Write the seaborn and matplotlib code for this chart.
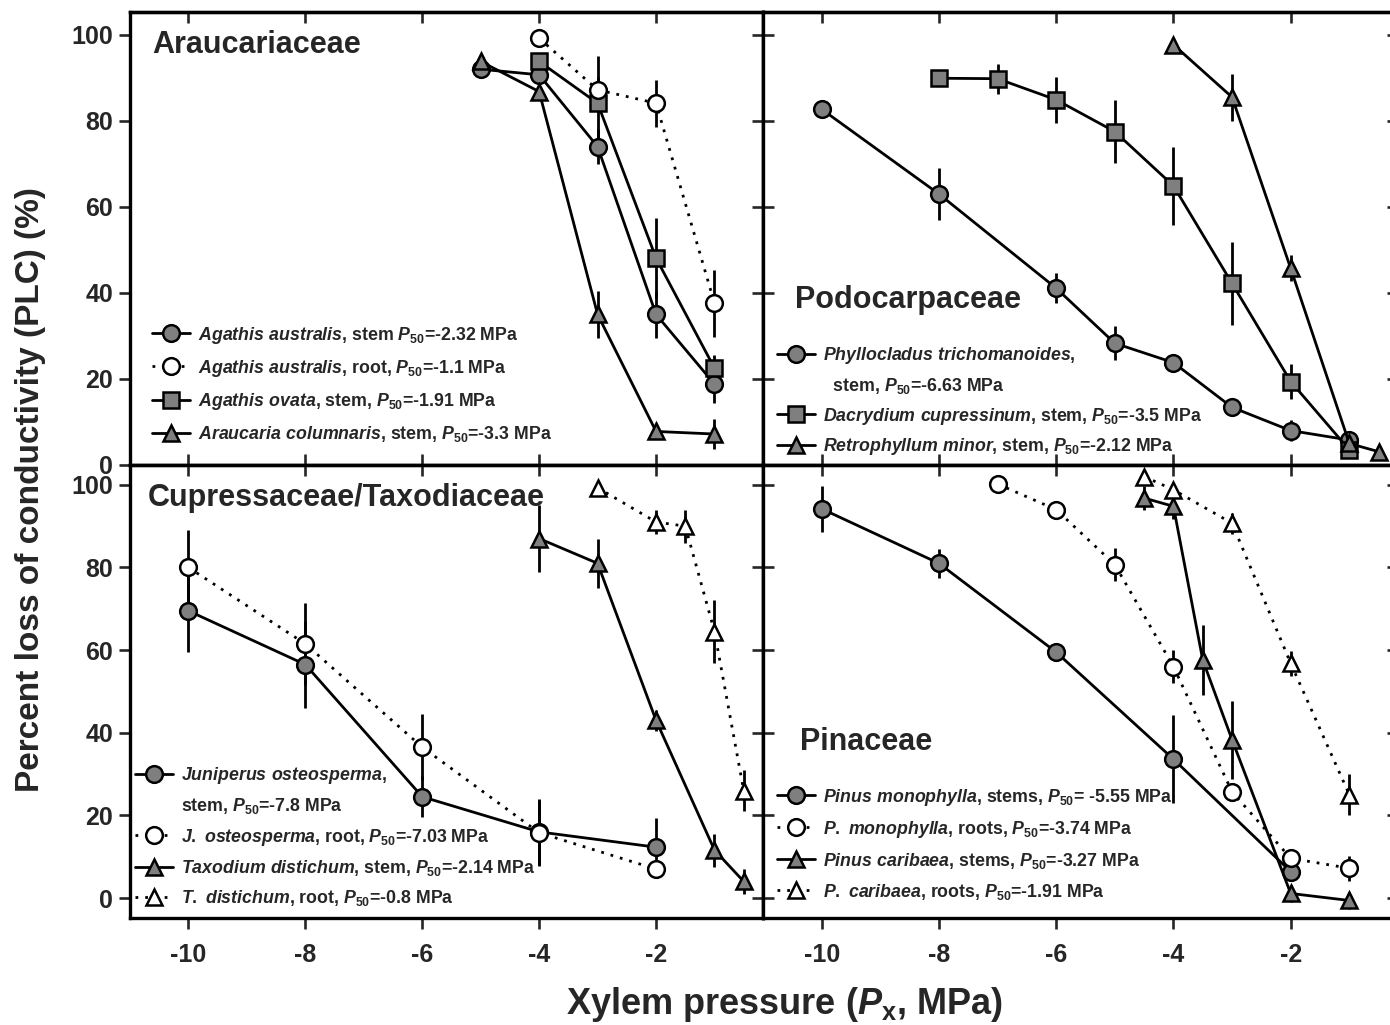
import matplotlib
matplotlib.use("Agg")
import matplotlib.pyplot as plt
from matplotlib.lines import Line2D
from matplotlib import font_manager
import seaborn as sns

sns.set_theme(style="white")
names = {f.name for f in font_manager.fontManager.ttflist}
NARROW = "Liberation Sans Narrow" if "Liberation Sans Narrow" in names else "Liberation Sans"
plt.rcParams.update({
    "font.family": ["Liberation Sans", "DejaVu Sans"],
    "font.weight": "bold",
    "axes.unicode_minus": False,
    "mathtext.fontset": "custom",
    "mathtext.rm": "Liberation Sans:bold",
    "mathtext.it": "Liberation Sans:italic:bold",
    "mathtext.bf": "Liberation Sans:bold",
})

# ---------------- data ----------------
# Araucariaceae
aa_stem_x = [-5, -4, -3, -2, -1]
aa_stem_y = [92, 90.7, 74, 35, 18.8]
aa_stem_e = [0, 1.5, 4, 5.5, 4.3]
aa_root_x = [-4, -3, -2, -1]
aa_root_y = [99.2, 87.2, 84.1, 37.6]
aa_root_e = [0, 3, 5.5, 7.8]
ao_stem_x = [-4, -3, -2, -1]
ao_stem_y = [93.8, 84.1, 48.1, 22.5]
ao_stem_e = [1, 11, 9.3, 3]
ac_stem_x = [-5, -4, -3, -2, -1]
ac_stem_y = [93.8, 86.8, 35, 7.8, 7.2]
ac_stem_e = [0, 1, 5.5, 1.5, 3.5]

# Podocarpaceae
pt_stem_x = [-10, -8, -6, -5, -4, -3, -2, -1]
pt_stem_y = [82.7, 63, 41.1, 28.3, 23.8, 13.4, 8.0, 5.8]
pt_stem_e = [2, 6, 3.5, 4, 1, 1, 2.5, 1]
dc_stem_x = [-8, -7, -6, -5, -4, -3, -2, -1]
dc_stem_y = [89.9, 89.8, 84.9, 77.5, 64.9, 42.2, 19.4, 3.5]
dc_stem_e = [0, 3.5, 5.3, 7.4, 9.1, 9.7, 4, 1]
rm_stem_x = [-4, -3, -2, -1, -0.5]
rm_stem_y = [97.7, 85.5, 45.7, 5, 3.1]
rm_stem_e = [0, 5.5, 3, 1, 0]

# Cupressaceae / Taxodiaceae
jo_stem_x = [-10, -8, -6, -4, -2]
jo_stem_y = [69.5, 56.5, 24.5, 16, 12.3]
jo_stem_e = [10, 10.5, 5, 8, 7]
jo_root_x = [-10, -8, -6, -4, -2]
jo_root_y = [80, 61.5, 36.5, 15.8, 7]
jo_root_e = [9, 10, 8, 8, 0]
td_stem_x = [-4, -3, -2, -1, -0.5]
td_stem_y = [87, 81, 43, 11.6, 4]
td_stem_e = [8, 6, 2.5, 4, 3]
td_root_x = [-3, -2, -1.5, -1, -0.5]
td_root_y = [99.3, 91, 90, 64.5, 26]
td_root_e = [0, 3, 4, 7.7, 5]

# Pinaceae
pm_stem_x = [-10, -8, -6, -4, -2]
pm_stem_y = [94.2, 81, 59.5, 33.6, 6.4]
pm_stem_e = [5.6, 3.5, 1, 10.7, 2]
pm_root_x = [-7, -6, -5, -4, -3, -2, -1]
pm_root_y = [100.2, 94, 80.7, 56, 25.7, 9.6, 7.2]
pm_root_e = [0, 1, 4, 4, 1, 1, 3]
pc_stem_x = [-4.5, -4, -3.5, -3, -2, -1]
pc_stem_y = [96.8, 94.8, 57.6, 38.3, 1.1, -0.6]
pc_stem_e = [3, 3, 8.5, 9.5, 2, 2]
pc_root_x = [-4.5, -4, -3, -2, -1]
pc_root_y = [102, 98.8, 90.7, 56.8, 25]
pc_root_e = [0, 1, 2.5, 3, 5]

x_ticks = [-10, -8, -6, -4, -2]
y_ticks = [0, 20, 40, 60, 80, 100]

GRAY = "#7f7f7f"
DOTS = (0, (1, 2.5))
STYLE = {
    "circle": dict(marker="o", mfc=GRAY, ls="-", ms=12),
    "ocircle": dict(marker="o", mfc="white", ls=DOTS, ms=12),
    "square": dict(marker="s", mfc=GRAY, ls="-", ms=11),
    "triangle": dict(marker="^", mfc=GRAY, ls="-", ms=12),
    "otriangle": dict(marker="^", mfc="white", ls=DOTS, ms=12),
}
LW = 2.0


def draw_series(ax, x, y, err, kind):
    st = STYLE[kind]
    ax.errorbar(x, y, yerr=err, fmt="none", ecolor="black", elinewidth=LW,
                capsize=0, zorder=2)
    sns.lineplot(x=x, y=y, ax=ax, color="black", linewidth=LW,
                 linestyle=st["ls"], marker=st["marker"],
                 markersize=st["ms"], markerfacecolor=st["mfc"],
                 markeredgecolor="black", markeredgewidth=1.8,
                 errorbar=None, legend=False, zorder=3)


def handle(kind):
    st = STYLE[kind]
    return Line2D([], [], color="black", linewidth=LW, linestyle=st["ls"],
                  marker=st["marker"], markersize=st["ms"],
                  markerfacecolor=st["mfc"], markeredgecolor="black",
                  markeredgewidth=1.8)


def blank():
    return Line2D([], [], linestyle="none")


def add_legend(ax, handles, labels, anchor, spacing):
    leg = ax.legend(handles, labels, loc="upper left", bbox_to_anchor=anchor,
                    frameon=False, borderpad=0, borderaxespad=0,
                    handlelength=2.15, handletextpad=0.45, labelspacing=spacing,
                    prop={"size": 12.8, "weight": "bold"})
    return leg


def style_axes(ax, ylim, left_out, bottom_out):
    ax.set_xlim(-11, -0.17)
    ax.set_ylim(*ylim)
    ax.set_xticks(x_ticks)
    ax.set_yticks(y_ticks)
    for s in ax.spines.values():
        s.set_linewidth(2.4)
        s.set_color("black")
    ax.tick_params(axis="y", direction="out" if left_out else "in",
                   length=8, width=1.9, labelleft=left_out,
                   labelsize=18, pad=4, left=True)
    ax.tick_params(axis="x", direction="out" if bottom_out else "in",
                   length=8, width=1.9, labelbottom=bottom_out,
                   labelsize=18, pad=10, bottom=True)
    for lab in ax.get_xticklabels() + ax.get_yticklabels():
        lab.set_fontfamily(NARROW)
        lab.set_fontweight("bold")
    top = ax.secondary_xaxis("top")
    top.set_xticks(x_ticks)
    top.tick_params(direction="in", length=8, width=1.9, labeltop=False)
    right = ax.secondary_yaxis("right")
    right.set_yticks(y_ticks)
    right.tick_params(direction="in", length=8, width=1.9, labelright=False)
    for sec in (top, right):
        for s in sec.spines.values():
            s.set_linewidth(2.4)


fig = plt.figure(figsize=(13.9, 10.25), dpi=100)
W, H = 1390, 1025
ax_tl = fig.add_axes([130 / W, (H - 465) / H, 633 / W, 453 / H])
ax_tr = fig.add_axes([763 / W, (H - 465) / H, 635 / W, 453 / H])
ax_bl = fig.add_axes([130 / W, (H - 918) / H, 633 / W, 453 / H])
ax_br = fig.add_axes([763 / W, (H - 918) / H, 635 / W, 453 / H])

top_ylim = (0, 105.3)
bot_ylim = (-4.84, 104.8)
TITLE = dict(fontsize=22, fontweight="bold", va="center")

# Araucariaceae
draw_series(ax_tl, aa_stem_x, aa_stem_y, aa_stem_e, "circle")
draw_series(ax_tl, ac_stem_x, ac_stem_y, ac_stem_e, "triangle")
draw_series(ax_tl, ao_stem_x, ao_stem_y, ao_stem_e, "square")
draw_series(ax_tl, aa_root_x, aa_root_y, aa_root_e, "ocircle")
style_axes(ax_tl, top_ylim, True, False)
ax_tl.text(0.035, 0.927, "Araucariaceae", transform=ax_tl.transAxes, **TITLE)
add_legend(ax_tl,
           [handle("circle"), handle("ocircle"), handle("square"), handle("triangle")],
           [r"$\mathit{Agathis\ australis}$, stem $P_{50}$=-2.32 MPa",
            r"$\mathit{Agathis\ australis}$, root, $P_{50}$=-1.1 MPa",
            r"$\mathit{Agathis\ ovata}$, stem, $P_{50}$=-1.91 MPa",
            r"$\mathit{Araucaria\ columnaris}$, stem, $P_{50}$=-3.3 MPa"],
           (0.035, 0.31), 0.68)

# Podocarpaceae
draw_series(ax_tr, pt_stem_x, pt_stem_y, pt_stem_e, "circle")
draw_series(ax_tr, dc_stem_x, dc_stem_y, dc_stem_e, "square")
draw_series(ax_tr, rm_stem_x, rm_stem_y, rm_stem_e, "triangle")
style_axes(ax_tr, top_ylim, False, False)
ax_tr.text(0.05, 0.364, "Podocarpaceae", transform=ax_tr.transAxes, **TITLE)
add_legend(ax_tr,
           [handle("circle"), blank(), handle("square"), handle("triangle")],
           [r"$\mathit{Phyllocladus\ trichomanoides}$,",
            r"  stem, $P_{50}$=-6.63 MPa",
            r"$\mathit{Dacrydium\ cupressinum}$, stem, $P_{50}$=-3.5 MPa",
            r"$\mathit{Retrophyllum\ minor}$, stem, $P_{50}$=-2.12 MPa"],
           (0.022, 0.265), 0.55)

# Cupressaceae / Taxodiaceae
draw_series(ax_bl, jo_stem_x, jo_stem_y, jo_stem_e, "circle")
draw_series(ax_bl, jo_root_x, jo_root_y, jo_root_e, "ocircle")
draw_series(ax_bl, td_stem_x, td_stem_y, td_stem_e, "triangle")
draw_series(ax_bl, td_root_x, td_root_y, td_root_e, "otriangle")
style_axes(ax_bl, bot_ylim, True, True)
ax_bl.text(0.028, 0.927, "Cupressaceae/Taxodiaceae", transform=ax_bl.transAxes,
           zorder=1, **TITLE)
add_legend(ax_bl,
           [handle("circle"), blank(), handle("ocircle"), handle("triangle"),
            handle("otriangle")],
           [r"$\mathit{Juniperus\ osteosperma}$,",
            r"stem, $P_{50}$=-7.8 MPa",
            r"$\mathit{J.\ osteosperma}$, root, $P_{50}$=-7.03 MPa",
            r"$\mathit{Taxodium\ distichum}$, stem, $P_{50}$=-2.14 MPa",
            r"$\mathit{T.\ distichum}$, root, $P_{50}$=-0.8 MPa"],
           (0.008, 0.338), 0.58)

# Pinaceae
draw_series(ax_br, pm_stem_x, pm_stem_y, pm_stem_e, "circle")
draw_series(ax_br, pm_root_x, pm_root_y, pm_root_e, "ocircle")
draw_series(ax_br, pc_stem_x, pc_stem_y, pc_stem_e, "triangle")
draw_series(ax_br, pc_root_x, pc_root_y, pc_root_e, "otriangle")
style_axes(ax_br, bot_ylim, False, True)
ax_br.text(0.058, 0.389, "Pinaceae", transform=ax_br.transAxes, **TITLE)
add_legend(ax_br,
           [handle("circle"), handle("ocircle"), handle("triangle"), handle("otriangle")],
           [r"$\mathit{Pinus\ monophylla}$, stems, $P_{50}$= -5.55 MPa",
            r"$\mathit{P.\ monophylla}$, roots, $P_{50}$=-3.74 MPa",
            r"$\mathit{Pinus\ caribaea}$, stems, $P_{50}$=-3.27 MPa",
            r"$\mathit{P.\ caribaea}$, roots, $P_{50}$=-1.91 MPa"],
           (0.022, 0.29), 0.62)

fig.text(0.022, 0.522, "Percent loss of conductivity (PLC) (%)", rotation=90,
         ha="center", va="center", fontsize=24, fontweight="bold",
         fontfamily=NARROW)
fig.text(0.564, 0.02, r"Xylem pressure ($P_{\mathrm{x}}$, MPa)", ha="center",
         va="center", fontsize=26, fontweight="bold", fontfamily=NARROW)

fig.savefig("out.png", dpi=100)
